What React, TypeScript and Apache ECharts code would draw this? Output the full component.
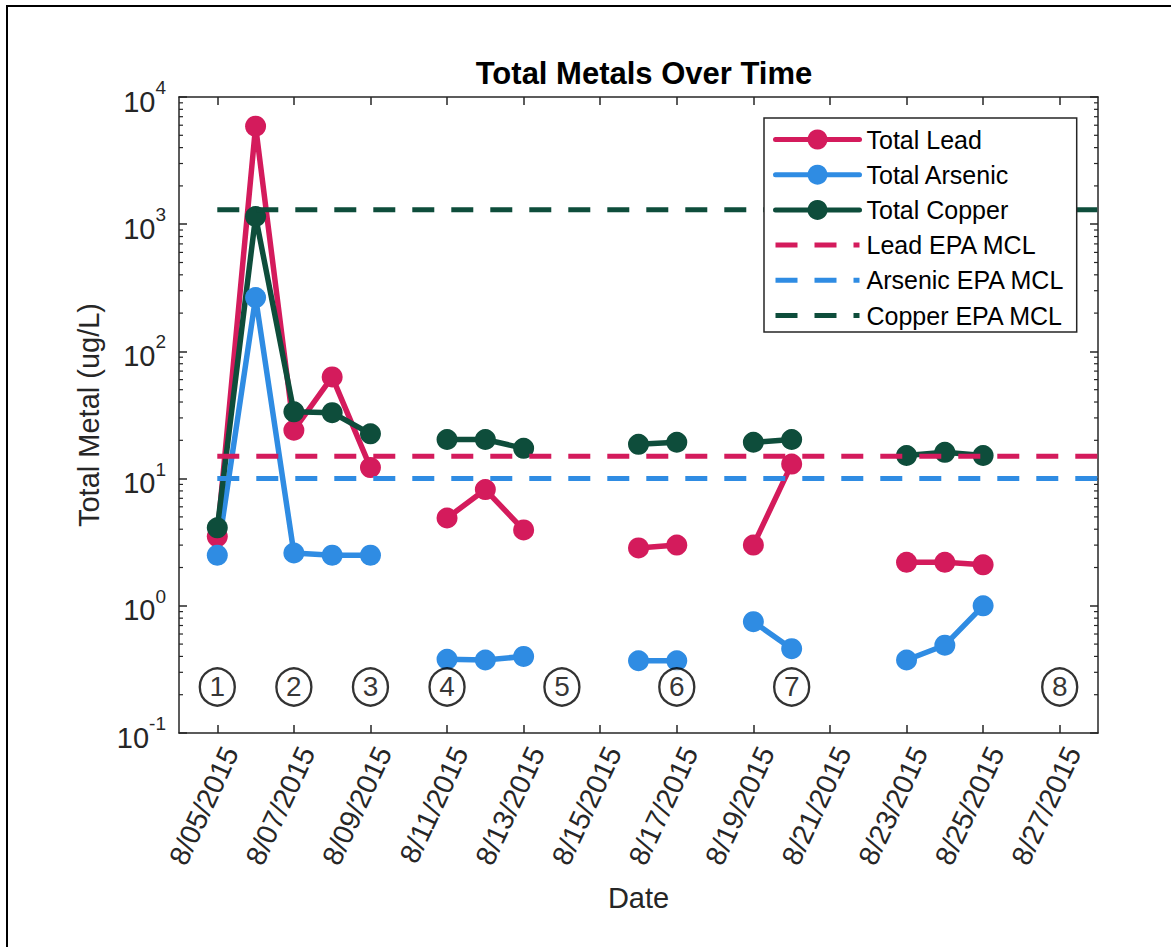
import React, { useEffect, useRef } from "react";
import * as echarts from "echarts";

// ---- data ----
const sampleDates = [
  "8/05/2015", "8/06/2015", "8/07/2015", "8/08/2015", "8/09/2015", "8/10/2015", "8/11/2015",
  "8/12/2015", "8/13/2015", "8/14/2015", "8/15/2015", "8/16/2015", "8/17/2015", "8/18/2015",
  "8/19/2015", "8/20/2015", "8/21/2015", "8/22/2015", "8/23/2015", "8/24/2015", "8/25/2015",
];
const leadValues = [3.5, 5900, 24, 63, 12.2, null, 4.9, 8.2, 3.95, null, null, 2.85, 3.0, null, 3.0, 13, null, null, 2.2, 2.2, 2.1];
const arsenicValues = [2.5, 265, 2.6, 2.5, 2.5, null, 0.38, 0.375, 0.4, null, null, 0.37, 0.37, null, 0.75, 0.46, null, null, 0.375, 0.49, 1.0];
const copperValues = [4.1, 1150, 33.5, 33, 22.5, null, 20.3, 20.3, 17.3, null, null, 18.6, 19.3, null, 19.3, 20.3, null, null, 15.2, 16.1, 15.2];

const mclNames = ["Lead EPA MCL", "Arsenic EPA MCL", "Copper EPA MCL"];
const mclValues = [15, 10, 1300];
const mclRange = ["8/05/2015", "8/28/2015"];

const stationLabels = ["1", "2", "3", "4", "5", "6", "7", "8"];
const stationDates = ["8/05/2015", "8/07/2015", "8/09/2015", "8/11/2015", "8/14/2015", "8/17/2015", "8/20/2015", "8/27/2015"];
const stationLevel = 0.23;

const xTickDates = ["8/05/2015", "8/07/2015", "8/09/2015", "8/11/2015", "8/13/2015", "8/15/2015", "8/17/2015", "8/19/2015", "8/21/2015", "8/23/2015", "8/25/2015", "8/27/2015"];
const xRange = ["8/04/2015", "8/28/2015"];
const yRange = [0.1, 10000];
const yMinorTicks = [
  0.2, 0.3, 0.4, 0.5, 0.6, 0.7, 0.8, 0.9,
  2, 3, 4, 5, 6, 7, 8, 9,
  20, 30, 40, 50, 60, 70, 80, 90,
  200, 300, 400, 500, 600, 700, 800, 900,
  2000, 3000, 4000, 5000, 6000, 7000, 8000, 9000,
];

const seriesNames = ["Total Lead", "Total Arsenic", "Total Copper"];
const colors = ["#D41B5C", "#2F8CE3", "#0E4D3B"];

// ---- helpers ----
const toMs = (s: string) => {
  const [m, d, y] = s.split("/").map(Number);
  return Date.UTC(y, m - 1, d);
};
const fmtDate = (v: number) => {
  const d = new Date(v);
  return `${d.getUTCMonth() + 1}/${String(d.getUTCDate()).padStart(2, "0")}/${d.getUTCFullYear()}`;
};
const FONT = "'Liberation Sans', Arial, Helvetica, sans-serif";
const AX = "#262626";
const HIDDEN = "rgba(0,0,0,0)";

export default function App() {
  const ref = useRef<HTMLDivElement>(null);

  useEffect(() => {
    if (!ref.current) return;
    const chart = echarts.init(ref.current, undefined, { renderer: "svg" });
    const xMin = toMs(xRange[0]);
    const xMax = toMs(xRange[1]);
    const xTicks = xTickDates.map(toMs);

    const mkData = (vals: (number | null)[]) =>
      sampleDates.map((d, i) => [toMs(d), vals[i] == null ? "-" : vals[i]]);

    const mainSeries = [leadValues, arsenicValues, copperValues].map((vals, i) => ({
      name: seriesNames[i],
      type: "line",
      data: mkData(vals),
      connectNulls: false,
      symbol: "circle",
      symbolSize: 21,
      showSymbol: true,
      itemStyle: { color: colors[i] },
      lineStyle: { color: colors[i], width: 5.5, cap: "round", join: "round" },
      z: 2,
    }));

    const mclSeries = mclValues.map((v, i) => ({
      name: mclNames[i],
      type: "line",
      data: mclRange.map((d) => [toMs(d), v]),
      symbol: "none",
      itemStyle: { color: colors[i] },
      lineStyle: { color: colors[i], width: 5, type: [22, 17] },
      z: 3,
    }));

    const option: any = {
      animation: false,
      backgroundColor: "#fff",
      title: {
        text: "Total Metals Over Time",
        left: 639,
        textAlign: "center",
        top: 53,
        textStyle: { fontFamily: FONT, fontSize: 31, fontWeight: "bold", color: "#000" },
      },
      graphic: [
        {
          type: "rect",
          silent: true,
          z: -10,
          shape: { x: 7, y: 6, width: 1190, height: 960 },
          style: { fill: "none", stroke: "#000", lineWidth: 2 },
        },
      ],
      legend: {
        data: [
          ...seriesNames.map((n) => ({ name: n })),
          ...mclNames.map((n) => ({ name: n, itemStyle: { color: HIDDEN, borderColor: HIDDEN, borderWidth: 0 } })),
        ],
        orient: "vertical",
        left: 764,
        top: 118,
        padding: [9, 12, 4, 9],
        itemWidth: 84,
        itemHeight: 25,
        itemGap: 10.2,
        backgroundColor: "#fff",
        borderColor: "#262626",
        borderWidth: 1.5,
        lineStyle: { width: 5 },
        textStyle: { fontFamily: FONT, fontSize: 25, lineHeight: 25, color: "#000", padding: [0, 0, 0, 2] },
      },
      grid: { left: 179, top: 97, width: 919, height: 636 },
      xAxis: [
        {
          type: "value",
          min: xMin,
          max: xMax,
          name: "Date",
          nameLocation: "middle",
          nameGap: 150,
          nameTextStyle: { fontFamily: FONT, fontSize: 29, color: AX },
          axisLine: { show: true, lineStyle: { color: AX, width: 1.5 } },
          axisTick: { show: true, inside: true, length: 8, customValues: xTicks, lineStyle: { color: AX, width: 1.5 } },
          axisLabel: {
            customValues: xTicks,
            formatter: (v: number) => fmtDate(v),
            rotate: 65,
            verticalAlign: "top",
            margin: 9,
            fontFamily: FONT,
            fontSize: 28.5,
            color: AX,
          },
          splitLine: { show: false },
        },
        {
          type: "value",
          position: "top",
          min: xMin,
          max: xMax,
          axisLine: { show: true, lineStyle: { color: AX, width: 1.5 } },
          axisTick: { show: true, inside: true, length: 8, customValues: xTicks, lineStyle: { color: AX, width: 1.5 } },
          axisLabel: { show: false },
          splitLine: { show: false },
        },
      ],
      yAxis: [
        {
          type: "log",
          logBase: 10,
          min: yRange[0],
          max: yRange[1],
          name: "Total Metal (ug/L)",
          nameLocation: "middle",
          nameGap: 76,
          nameTextStyle: { fontFamily: FONT, fontSize: 29, color: AX },
          axisLine: { show: true, lineStyle: { color: AX, width: 1.5 } },
          axisTick: { show: true, inside: true, length: 8, lineStyle: { color: AX, width: 1.5 } },
          axisLabel: {
            margin: 13,
            formatter: (v: number) => `{b|10}{s|${Math.round(Math.log10(v))}}`,
            rich: {
              b: { fontFamily: FONT, fontSize: 29, color: AX, verticalAlign: "bottom", lineHeight: 38 },
              s: { fontFamily: FONT, fontSize: 19, color: AX, verticalAlign: "top", lineHeight: 19 },
            },
          },
          splitLine: { show: false },
        },
        {
          type: "log",
          logBase: 10,
          position: "right",
          min: yRange[0],
          max: yRange[1],
          axisLine: { show: true, lineStyle: { color: AX, width: 1.5 } },
          axisTick: { show: true, inside: true, length: 8, lineStyle: { color: AX, width: 1.5 } },
          axisLabel: { show: false },
          splitLine: { show: false },
        },
      ],
      series: [
        ...mainSeries,
        ...mclSeries,
        {
          name: "stations",
          type: "scatter",
          data: stationDates.map((d, i) => ({ value: [toMs(d), stationLevel], label: { formatter: stationLabels[i] } })),
          symbol: "circle",
          symbolSize: [35, 37],
          itemStyle: { color: "#fff", borderColor: "#000", borderWidth: 2.4 },
          label: { show: true, position: "inside", fontFamily: FONT, fontSize: 28, color: "#000" },
          z: 4,
          silent: true,
        },
        {
          name: "minorTicks",
          type: "custom",
          silent: true,
          clip: false,
          z: 5,
          data: yMinorTicks.map((v) => [xMin, v]),
          renderItem: (params: any, api: any) => {
            const cs = params.coordSys;
            const p = api.coord([api.value(0), api.value(1)]);
            const y = p[1];
            const st = { stroke: AX, lineWidth: 1.2 };
            return {
              type: "group",
              children: [
                { type: "line", shape: { x1: cs.x, y1: y, x2: cs.x + 4, y2: y }, style: st },
                { type: "line", shape: { x1: cs.x + cs.width, y1: y, x2: cs.x + cs.width - 4, y2: y }, style: st },
              ],
            };
          },
        },
      ],
    };

    chart.setOption(option);
    return () => chart.dispose();
  }, []);

  return (
    <div
      ref={ref}
      style={{ position: "fixed", left: 0, top: 0, width: 1171, height: 947, background: "#fff" }}
    />
  );
}
